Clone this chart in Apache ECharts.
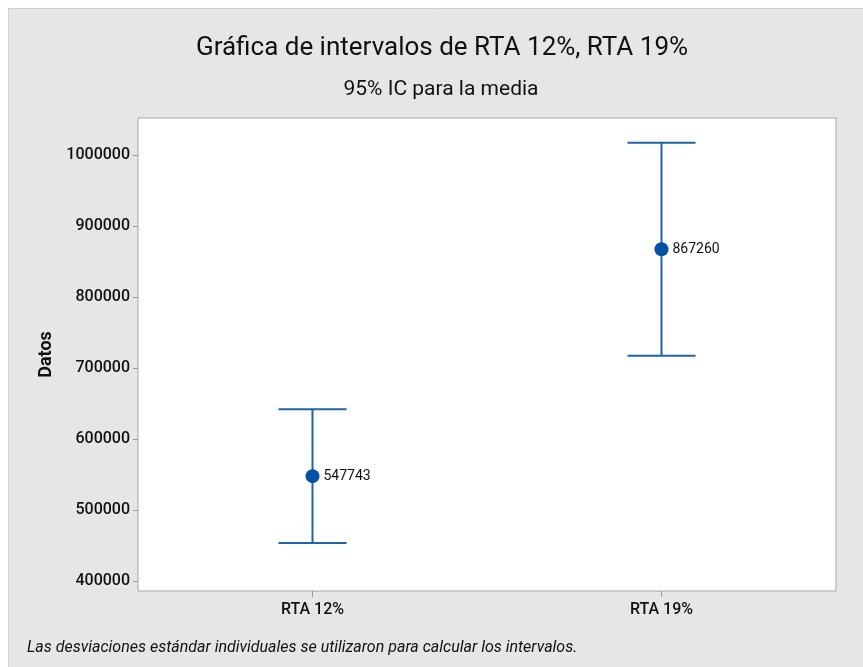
<!DOCTYPE html>
<html lang="es">
<head>
    <meta charset="UTF-8">
    <title>Gráfica de intervalos</title>
    <style>
        html, body { margin: 0; padding: 0; background: #fff; }
        #chart { width: 863px; height: 667px; }
    </style>
</head>
<body>
    <div id="chart"></div>
    <script src="https://cdn.jsdelivr.net/npm/echarts@6/dist/echarts.min.js"></script>
    <script>
        // datos
        var categorias = ['RTA 12%', 'RTA 19%'];
        var medias = [547743, 867260];
        var limiteInf = [453743, 717260];
        var limiteSup = [641743, 1017260];
        var ticksY = [400000, 500000, 600000, 700000, 800000, 900000, 1000000];

        var fuente = 'Roboto, "Liberation Sans", sans-serif';
        var colorLinea = '#1f62ad';
        var colorPunto = '#0152a5';

        var intervalos = categorias.map(function (c, i) {
            return [i, limiteInf[i], limiteSup[i]];
        });
        var puntos = categorias.map(function (c, i) {
            return [i, medias[i]];
        });

        var chart = echarts.init(document.getElementById('chart'));
        var option = {
            backgroundColor: '#fff',
            animation: false,
            graphic: [
                {
                    type: 'rect', z: -10, silent: true,
                    shape: { x: 8.5, y: 8.5, width: 870, height: 670 },
                    style: { fill: '#e6e6e6', stroke: '#cfcfcf', lineWidth: 1 }
                },
                {
                    type: 'text', left: 27, top: 640,
                    style: {
                        text: 'Las desviaciones estándar individuales se utilizaron para calcular los intervalos.',
                        font: 'italic 16px ' + fuente, fill: '#111'
                    }
                }
            ],
            title: [
                {
                    text: 'Gráfica de intervalos de RTA 12%, RTA 19%',
                    left: 437, top: 30, textAlign: 'center',
                    textStyle: { fontFamily: fuente, fontSize: 26, fontWeight: 'normal', color: '#111' }
                },
                {
                    text: '95% IC para la media',
                    left: 436, top: 74, textAlign: 'center',
                    textStyle: { fontFamily: fuente, fontSize: 21, fontWeight: 'normal', color: '#111' }
                }
            ],
            grid: {
                left: 138, right: 27, top: 118, bottom: 76,
                show: true, backgroundColor: '#fff', borderColor: '#a6a6a6', borderWidth: 1
            },
            xAxis: {
                type: 'category',
                data: categorias,
                boundaryGap: true,
                axisLine: { show: false },
                axisTick: { show: true, alignWithLabel: true, length: 6, lineStyle: { color: '#999' } },
                axisLabel: { fontFamily: fuente, fontSize: 16, fontWeight: 500, color: '#111', margin: 11 },
                splitLine: { show: false }
            },
            yAxis: {
                type: 'value',
                min: 386000,
                max: 1052000,
                name: 'Datos',
                nameLocation: 'middle',
                nameGap: 82,
                nameTextStyle: { fontFamily: fuente, fontSize: 18, fontWeight: 'bold', color: '#111' },
                axisLine: { show: false },
                axisTick: { show: true, length: 5, customValues: ticksY, lineStyle: { color: '#999' } },
                axisLabel: {
                    fontFamily: fuente, fontSize: 16, fontWeight: 500, color: '#111', margin: 8,
                    customValues: ticksY,
                    formatter: function (v) { return String(v); }
                },
                splitLine: { show: false }
            },
            series: [
                {
                    type: 'custom',
                    data: intervalos,
                    renderItem: function (params, api) {
                        var x = api.value(0);
                        var lo = api.coord([x, api.value(1)]);
                        var hi = api.coord([x, api.value(2)]);
                        var half = 34;
                        var st = { stroke: colorLinea, lineWidth: 2 };
                        return {
                            type: 'group',
                            children: [
                                { type: 'line', shape: { x1: hi[0], y1: hi[1], x2: lo[0], y2: lo[1] }, style: st },
                                { type: 'line', shape: { x1: hi[0] - half, y1: hi[1], x2: hi[0] + half, y2: hi[1] }, style: st },
                                { type: 'line', shape: { x1: lo[0] - half, y1: lo[1], x2: lo[0] + half, y2: lo[1] }, style: st }
                            ]
                        };
                    },
                    z: 2
                },
                {
                    type: 'scatter',
                    data: puntos,
                    symbol: 'circle',
                    symbolSize: 14,
                    itemStyle: { color: colorPunto, opacity: 1 },
                    label: {
                        show: true, position: 'right', distance: 4,
                        fontFamily: fuente, fontSize: 14, color: '#111',
                        formatter: function (p) { return p.value[1]; }
                    },
                    z: 3
                }
            ]
        };
        chart.setOption(option);
    </script>
</body>
</html>
